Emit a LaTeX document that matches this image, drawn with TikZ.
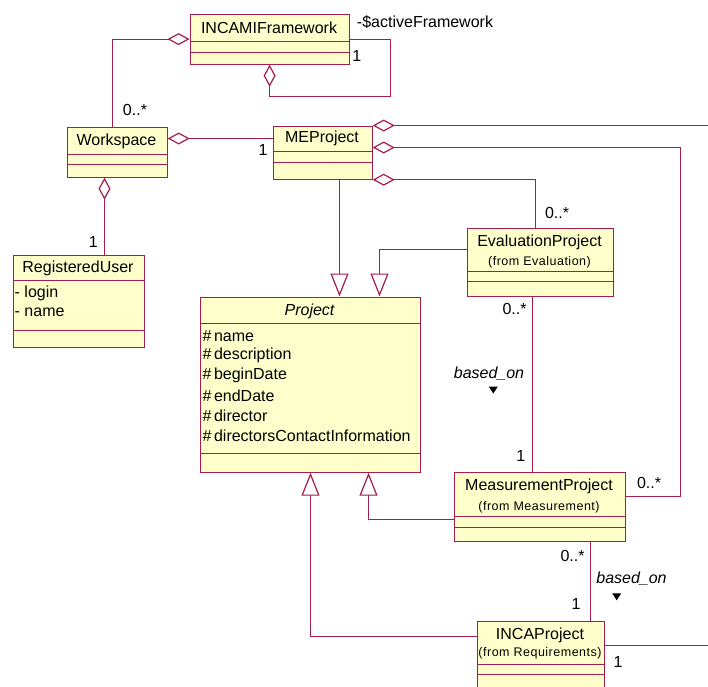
\documentclass[tikz,border=0pt]{standalone}
\usepackage{fontspec}
\setmainfont{Liberation Sans}
\newfontfamily\fromfont[LetterSpace=4]{Liberation Sans}
\usetikzlibrary{arrows.meta}
\definecolor{umlline}{RGB}{165,28,78}
\definecolor{umlfill}{RGB}{255,255,204}
\tikzset{
  classbox/.style={draw=umlline, fill=umlfill, line width=1.2pt, anchor=north west, inner sep=0pt},
  divider/.style={draw=umlline, line width=1.2pt},
  conn/.style={draw=umlline, line width=1.2pt},
  agg/.style={conn, {Diamond[open, length=22pt, width=12pt, line width=1.2pt]}-},
  gen/.style={conn, -{Triangle[open, fill=white, length=23pt, width=18pt, line width=1.2pt]}},
  ctitle/.style={font=\fontsize{16}{19}\selectfont, inner sep=0pt, text=black},
  cfrom/.style={font=\fromfont\fontsize{12.5}{14}\selectfont, inner sep=0pt, text=black},
  attr/.style={font=\fontsize{16}{19}\selectfont, inner sep=0pt, anchor=west, text=black},
  mult/.style={font=\fontsize{16}{19}\selectfont, inner sep=0pt, text=black},
  role/.style={font=\fontsize{16}{19}\selectfont\itshape, inner sep=0pt, text=black},
  navtri/.style={fill=black}
}
\begin{document}
\begin{tikzpicture}[x=1pt, y=-1pt]
\useasboundingbox (0,0) rectangle (708,686);
\clip (0,0) rectangle (708,686);
\fill[white] (0,0) rectangle (708,686);

% ---------- classes ----------
% INCAMIFramework
\node[classbox, minimum width=159pt, minimum height=50pt] (incami) at (189.5,13.5) {};
\draw[divider] (incami.west |- 0,41.5) -- (incami.east |- 0,41.5);
\draw[divider] (incami.west |- 0,52.5) -- (incami.east |- 0,52.5);
\node[ctitle] (incamiT) at (269,28) {INCAMIFramework};

% Workspace
\node[classbox, minimum width=100pt, minimum height=50pt] (workspace) at (66.5,126.5) {};
\draw[divider] (workspace.west |- 0,154.5) -- (workspace.east |- 0,154.5);
\draw[divider] (workspace.west |- 0,164.5) -- (workspace.east |- 0,164.5);
\node[ctitle] (workspaceT) at (116.5,141.5) {Workspace};

% MEProject
\node[classbox, minimum width=99pt, minimum height=53pt] (meproject) at (272.5,125.5) {};
\draw[divider] (meproject.west |- 0,151.5) -- (meproject.east |- 0,151.5);
\draw[divider] (meproject.west |- 0,162.5) -- (meproject.east |- 0,162.5);
\node[ctitle] (meprojectT) at (322,138.5) {MEProject};

% RegisteredUser
\node[classbox, minimum width=131pt, minimum height=92pt] (reguser) at (12.5,254.5) {};
\draw[divider] (reguser.west |- 0,280.5) -- (reguser.east |- 0,280.5);
\draw[divider] (reguser.west |- 0,330.5) -- (reguser.east |- 0,330.5);
\node[ctitle] (reguserT) at (78,268.3) {RegisteredUser};
\node[attr] (reguserA1) at (14.5,293.3) {- login};
\node[attr] (reguserA2) at (14.5,312.7) {- name};

% Project (abstract)
\node[classbox, minimum width=220pt, minimum height=175pt] (project) at (199.5,296.5) {};
\draw[divider] (project.west |- 0,323.5) -- (project.east |- 0,323.5);
\draw[divider] (project.west |- 0,453.5) -- (project.east |- 0,453.5);
\node[ctitle, font=\fontsize{16}{19}\selectfont\itshape] (projectT) at (309.5,311.5) {Project};
\node[attr] (projectA1) at (202.3,335.7) {\#\,name};
\node[attr] (projectA2) at (202.3,355.7) {\#\,description};
\node[attr] (projectA3) at (202.3,375.7) {\#\,beginDate};
\node[attr] (projectA4) at (202.3,395.7) {\#\,endDate};
\node[attr] (projectA5) at (202.3,415.7) {\#\,director};
\node[attr] (projectA6) at (202.3,435.7) {\#\,directorsContactInformation};

% EvaluationProject
\node[classbox, minimum width=146pt, minimum height=68pt] (evaluation) at (466.5,227.5) {};
\draw[divider] (evaluation.west |- 0,271.5) -- (evaluation.east |- 0,271.5);
\draw[divider] (evaluation.west |- 0,281.5) -- (evaluation.east |- 0,281.5);
\node[ctitle] (evaluationT) at (539.5,242.7) {EvaluationProject};
\node[cfrom] (evaluationF) at (539.5,262) {(from Evaluation)};

% MeasurementProject
\node[classbox, minimum width=171pt, minimum height=69pt] (measurement) at (453.5,471.5) {};
\draw[divider] (measurement.west |- 0,516.5) -- (measurement.east |- 0,516.5);
\draw[divider] (measurement.west |- 0,527.5) -- (measurement.east |- 0,527.5);
\node[ctitle] (measurementT) at (539,486.7) {MeasurementProject};
\node[cfrom] (measurementF) at (539,507.3) {(from Measurement)};

% INCAProject
\node[classbox, minimum width=127pt, minimum height=80pt] (inca) at (476.5,620.5) {};
\draw[divider] (inca.west |- 0,664.5) -- (inca.east |- 0,664.5);
\draw[divider] (inca.west |- 0,674.5) -- (inca.east |- 0,674.5);
\node[ctitle] (incaT) at (540,635) {INCAProject};
\node[cfrom] (incaF) at (540,653.3) {(from Requirements)};

% ---------- free ends at the right border ----------
\coordinate (edgeTop) at (712,125.5);
\coordinate (edgeInca) at (712,645.5);
\coordinate (loopCorner) at (390.5,96.5);
\coordinate (measCorner) at (680.5,147.5);

% ---------- associations ----------
% INCAMIFramework <>-- Workspace
\draw[agg] (incami.west) -| ([xshift=-5pt]workspace.north);
\node[mult] (mWs) at (135,110) {0..*};

% INCAMIFramework self association
\draw[agg] (incami.south) |- (loopCorner) |- (incami.east);
\node[mult] (mLoop) at (356.7,56) {1};
\node[font=\fontsize{16}{19}\selectfont, inner sep=0pt] (roleLoop) at (425,22) {-\$activeFramework};

% Workspace <>-- MEProject
\draw[agg] (workspace.east |- 0,138.5) -- (meproject.west |- 0,138.5);
\node[mult] (mMe) at (263,150) {1};

% Workspace <>-- RegisteredUser
\draw[agg] (workspace.south -| 104.5,0) -- (reguser.north -| 104.5,0);
\node[mult] (mUser) at (93.3,241.7) {1};

% MEProject aggregations
\draw[agg] (meproject.north east) -- (edgeTop);
\draw[agg] (meproject.east |- measCorner) -- (measCorner) |- (measurement.east |- 0,496.5);
\node[mult] (mMeas) at (649,483) {0..*};
\draw[agg] (meproject.south east) -| (evaluation.north -| 535.5,0);
\node[mult] (mEval) at (557,213) {0..*};

% EvaluationProject -- MeasurementProject (based_on)
\draw[conn] (evaluation.south -| 532.5,0) -- (measurement.north -| 532.5,0);
\node[mult] (mEvB1) at (514.5,309) {0..*};
\node[mult] (mEvB2) at (520.7,455.7) {1};
\node[role] (rEv) at (489,373.3) {based\_on};
\fill[navtri] (488.8,386.5) -- (497.8,386.5) -- (493.3,393.5) -- cycle;

% MeasurementProject -- INCAProject (based_on)
\draw[conn] (measurement.south -| 590.5,0) -- (inca.north -| 590.5,0);
\node[mult] (mMsB1) at (572.5,556) {0..*};
\node[mult] (mMsB2) at (576,604) {1};
\node[role] (rMs) at (631.5,579) {based\_on};
\fill[navtri] (612.2,593.3) -- (621.2,593.3) -- (616.7,600.3) -- cycle;

% INCAProject outgoing association
\draw[conn] (inca.east |- edgeInca) -- (edgeInca);
\node[mult] (mInca) at (618,661.7) {1};

% ---------- generalizations ----------
\draw[gen] (meproject.south -| 339.5,0) -- (project.north -| 339.5,0);
\draw[gen] (evaluation.west |- 0,249.5) -| (project.north -| 379.5,0);
\draw[gen] (measurement.west |- 0,519.5) -| (project.south -| 368.5,0);
\draw[gen] (inca.west |- 0,636.5) -| (project.south -| 310.5,0);
\end{tikzpicture}
\end{document}
